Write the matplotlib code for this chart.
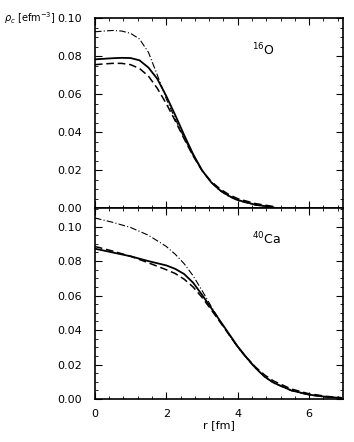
import matplotlib.pyplot as plt
from matplotlib.ticker import MultipleLocator, FormatStrFormatter

# 16O radii and densities
r_o = [0, 0.25, 0.5, 0.75, 1.0, 1.25, 1.5, 1.75, 2.0, 2.25, 2.5, 2.75, 3.0, 3.25,
       3.5, 3.75, 4.0, 4.5, 5.0]
o_solid = [0.0783, 0.0786, 0.0789, 0.0791, 0.0790, 0.0778, 0.0740, 0.0680, 0.0590,
           0.0490, 0.0385, 0.0285, 0.0200, 0.0138, 0.0095, 0.0065, 0.0043, 0.0018,
           0.0005]
o_dash = [0.0755, 0.0759, 0.0762, 0.0762, 0.0755, 0.0735, 0.0695, 0.0630, 0.0550,
          0.0460, 0.0365, 0.0275, 0.0198, 0.0142, 0.0102, 0.0072, 0.0050, 0.0024,
          0.0009]
o_dashdot = [0.0928, 0.0932, 0.0935, 0.0932, 0.0920, 0.0890, 0.0820, 0.0700, 0.0575,
             0.0470, 0.0370, 0.0278, 0.0198, 0.0136, 0.0092, 0.0062, 0.0040, 0.0016,
             0.0005]

# 40Ca radii and densities
r_ca = [0, 0.5, 1.0, 1.5, 2.0, 2.25, 2.5, 2.75, 3.0, 3.25, 3.5, 3.75, 4.0, 4.25,
        4.5, 4.75, 5.0, 5.5, 6.0, 6.5, 6.9]
ca_solid = [0.0872, 0.0850, 0.0828, 0.0800, 0.0775, 0.0755, 0.0725, 0.0675, 0.0605,
            0.0530, 0.0455, 0.0380, 0.0305, 0.0240, 0.0180, 0.0130, 0.0095, 0.0050,
            0.0025, 0.0012, 0.0006]
ca_dash = [0.0885, 0.0858, 0.0828, 0.0790, 0.0750, 0.0728, 0.0695, 0.0650, 0.0590,
           0.0520, 0.0448, 0.0375, 0.0302, 0.0240, 0.0185, 0.0140, 0.0105, 0.0058,
           0.0030, 0.0015, 0.0008]
ca_dashdot = [0.1050, 0.1025, 0.0995, 0.0950, 0.0885, 0.0840, 0.0785, 0.0715, 0.0630,
              0.0540, 0.0455, 0.0375, 0.0300, 0.0235, 0.0178, 0.0130, 0.0093, 0.0048,
              0.0023, 0.0010, 0.0005]

plt.rcParams['font.family'] = 'DejaVu Sans'
plt.rcParams['font.size'] = 8

fig = plt.figure(figsize=(3.54, 4.42), dpi=100)
ax1 = fig.add_axes([0.268, 0.529, 0.701, 0.430])
ax2 = fig.add_axes([0.268, 0.0973, 0.701, 0.4317])


def draw(ax, r, solid, dash, dashdot):
    ax.plot(r, solid, color='black', lw=1.3, ls='-')
    ax.plot(r, dash, color='black', lw=1.1, ls=(0, (5, 2.5)))
    ax.plot(r, dashdot, color='black', lw=0.8, ls=(0, (6, 2, 1, 2)))
    ax.set_xlim(0, 6.95)
    ax.xaxis.set_major_locator(MultipleLocator(2))
    ax.xaxis.set_minor_locator(MultipleLocator(0.4))
    ax.yaxis.set_major_locator(MultipleLocator(0.02))
    ax.yaxis.set_minor_locator(MultipleLocator(0.005))
    ax.yaxis.set_major_formatter(FormatStrFormatter('%.2f'))
    ax.tick_params(which='both', direction='in', top=True, right=True, labelsize=8)
    ax.tick_params(which='major', length=5)
    ax.tick_params(which='minor', length=2.5)
    ax.tick_params(axis='y', which='major', pad=9)
    ax.tick_params(axis='x', which='major', pad=7)
    for s in ax.spines.values():
        s.set_linewidth(1.2)


draw(ax1, r_o, o_solid, o_dash, o_dashdot)
ax1.set_ylim(0, 0.10)
ax1.tick_params(labelbottom=False)
ax1.text(4.4, 0.0805, r'${}^{16}$O', fontsize=9)

draw(ax2, r_ca, ca_solid, ca_dash, ca_dashdot)
ax2.set_ylim(0, 0.1107)
ax2.set_xlabel('r [fm]', labelpad=1)
ax2.text(4.4, 0.090, r'${}^{40}$Ca', fontsize=9)

fig.text(0.01, 0.959, r'$\rho_c$ [efm$^{-3}$]', fontsize=7, va='center')

fig.savefig('out.png', dpi=100)
